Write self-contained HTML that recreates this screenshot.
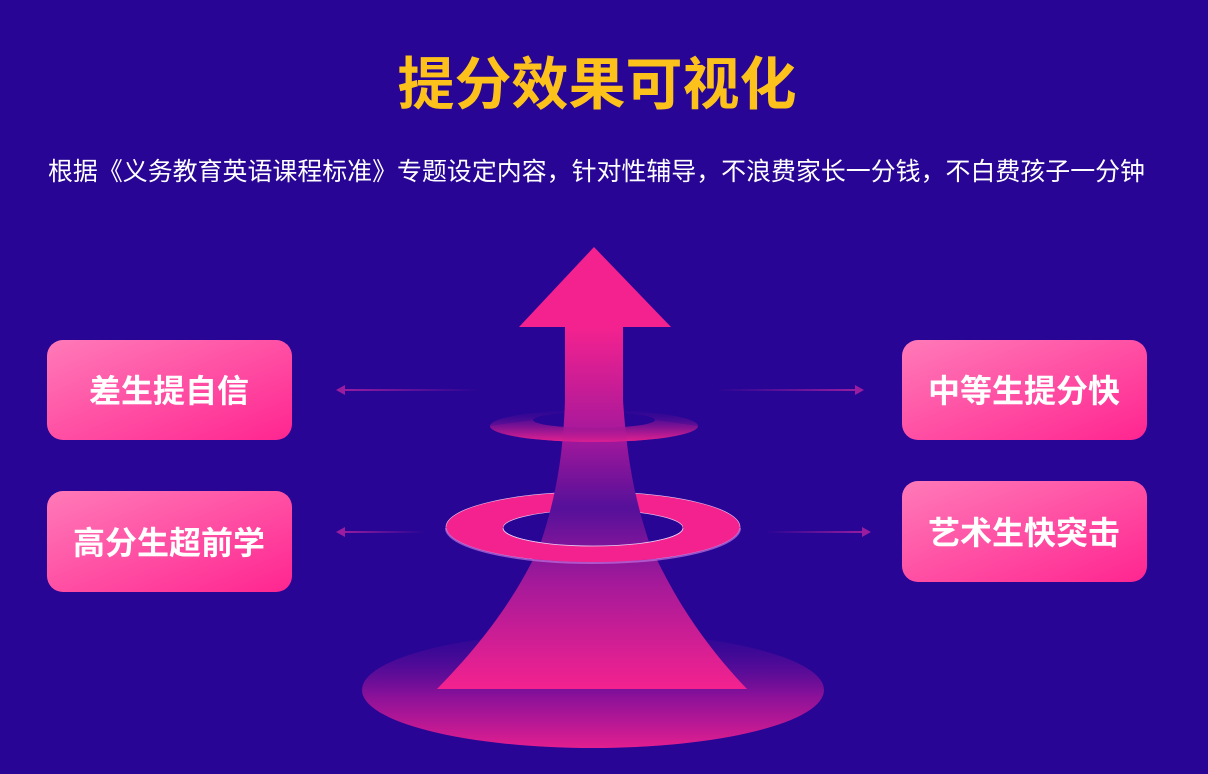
<!DOCTYPE html>
<html><head><meta charset="utf-8"><style>
html,body{margin:0;padding:0;background:#280594;}
svg{display:block}
text{font-family:"Liberation Sans","Noto Sans CJK SC",sans-serif;}
</style></head><body>
<svg width="1208" height="774" viewBox="0 0 1208 774" xmlns="http://www.w3.org/2000/svg">
<defs>
<linearGradient id="box" x1="0" y1="0" x2="1" y2="1">
<stop offset="0" stop-color="#ff7ab8"/><stop offset="1" stop-color="#ff2590"/>
</linearGradient>
<linearGradient id="shaft" x1="0" y1="327" x2="0" y2="689" gradientUnits="userSpaceOnUse">
<stop offset="0" stop-color="#f4228f"/>
<stop offset="0.3" stop-color="#a5189b"/>
<stop offset="0.5" stop-color="#55109a"/>
<stop offset="0.7" stop-color="#a2199a"/>
<stop offset="1" stop-color="#f4228f"/>
</linearGradient>
<linearGradient id="base" x1="0" y1="632" x2="0" y2="748" gradientUnits="userSpaceOnUse">
<stop offset="0" stop-color="#3a0a98" stop-opacity="0.3"/>
<stop offset="0.55" stop-color="#8a1199"/>
<stop offset="1" stop-color="#e21e90"/>
</linearGradient>
<linearGradient id="ring1" x1="0" y1="410" x2="0" y2="442" gradientUnits="userSpaceOnUse">
<stop offset="0" stop-color="#3a0a98" stop-opacity="0.2"/>
<stop offset="1" stop-color="#e4208f"/>
</linearGradient>
<linearGradient id="lineL" x1="0" y1="0" x2="1" y2="0">
<stop offset="0" stop-color="#9a1da0"/><stop offset="1" stop-color="#9a1da0" stop-opacity="0"/>
</linearGradient>
<linearGradient id="lineR" x1="0" y1="0" x2="1" y2="0">
<stop offset="0" stop-color="#9a1da0" stop-opacity="0"/><stop offset="1" stop-color="#9a1da0"/>
</linearGradient>
<clipPath id="front"><rect x="0" y="527" width="1208" height="100"/></clipPath>
</defs>

<text x="597" y="104" text-anchor="middle" font-size="57" font-weight="bold" fill="#fcc21b">提分效果可视化</text>
<text x="48" y="180" font-size="25" fill="#ffffff" textLength="1097" lengthAdjust="spacingAndGlyphs">根据《义务教育英语课程标准》专题设定内容，针对性辅导，不浪费家长一分钱，不白费孩子一分钟</text>

<!-- connectors -->
<rect x="340" y="389" width="140" height="2" fill="url(#lineL)"/>
<polygon points="336,390 345,385 345,395" fill="#9a1da0"/>
<rect x="715" y="389" width="145" height="2" fill="url(#lineR)"/>
<polygon points="864,390 855,385 855,395" fill="#9a1da0"/>
<rect x="340" y="531" width="85" height="2" fill="url(#lineL)"/>
<polygon points="336,532 345,527 345,537" fill="#9a1da0"/>
<rect x="765" y="531" width="103" height="2" fill="url(#lineR)"/>
<polygon points="871,532 862,527 862,537" fill="#9a1da0"/>

<!-- base -->
<ellipse cx="593" cy="690" rx="231" ry="58" fill="url(#base)"/>

<!-- ring2 back -->
<path fill-rule="evenodd" fill="#f4228f" stroke="#e8c8f0" stroke-width="0.6" d="M446,527 a147,35 0 1,0 294,0 a147,35 0 1,0 -294,0 Z M503,528 a90,18 0 1,0 180,0 a90,18 0 1,0 -180,0 Z"/>

<!-- upper ring back -->
<path fill-rule="evenodd" fill="url(#ring1)" d="M490,426 a104,16 0 1,0 208,0 a104,16 0 1,0 -208,0 Z M533,420 a61,8 0 1,0 122,0 a61,8 0 1,0 -122,0 Z"/>

<!-- shaft -->
<path fill="url(#shaft)" d="M565,327 L565,400 C563,460 555,500 540,545 C515,600 480,645 437,689 L747,689 C705,645 675,600 650,545 C635,500 627,460 623,400 L623,327 Z"/>
<polygon points="594,247 671,327 519,327" fill="#f4228f"/>

<!-- upper ring front -->
<path fill="url(#ring1)" opacity="0.85" d="M490,426 a104,16 0 0,0 208,0 L655,420 a61,8 0 0,1 -122,0 Z"/>

<!-- ring2 front -->
<g clip-path="url(#front)">
<path fill-rule="evenodd" fill="#f4228f" d="M446,527 a147,35 0 1,0 294,0 a147,35 0 1,0 -294,0 Z M503,528 a90,18 0 1,0 180,0 a90,18 0 1,0 -180,0 Z"/>
<path fill="none" stroke="#e8d0f5" stroke-width="0.8" d="M503,528 a90,18 0 0,0 180,0"/>
<path fill="none" stroke="#c070e0" stroke-width="2" opacity="0.7" d="M446,528 a147,35 0 0,0 294,0"/>
</g>

<!-- boxes -->
<rect x="47" y="340" width="245" height="100" rx="16" fill="url(#box)"/>
<text x="169" y="402" text-anchor="middle" font-size="32" font-weight="bold" fill="#fff">差生提自信</text>
<rect x="47" y="491" width="245" height="101" rx="16" fill="url(#box)"/>
<text x="169" y="554" text-anchor="middle" font-size="32" font-weight="bold" fill="#fff">高分生超前学</text>
<rect x="902" y="340" width="245" height="100" rx="16" fill="url(#box)"/>
<text x="1024" y="402" text-anchor="middle" font-size="32" font-weight="bold" fill="#fff">中等生提分快</text>
<rect x="902" y="481" width="245" height="101" rx="16" fill="url(#box)"/>
<text x="1024" y="544" text-anchor="middle" font-size="32" font-weight="bold" fill="#fff">艺术生快突击</text>
</svg>
</body></html>
